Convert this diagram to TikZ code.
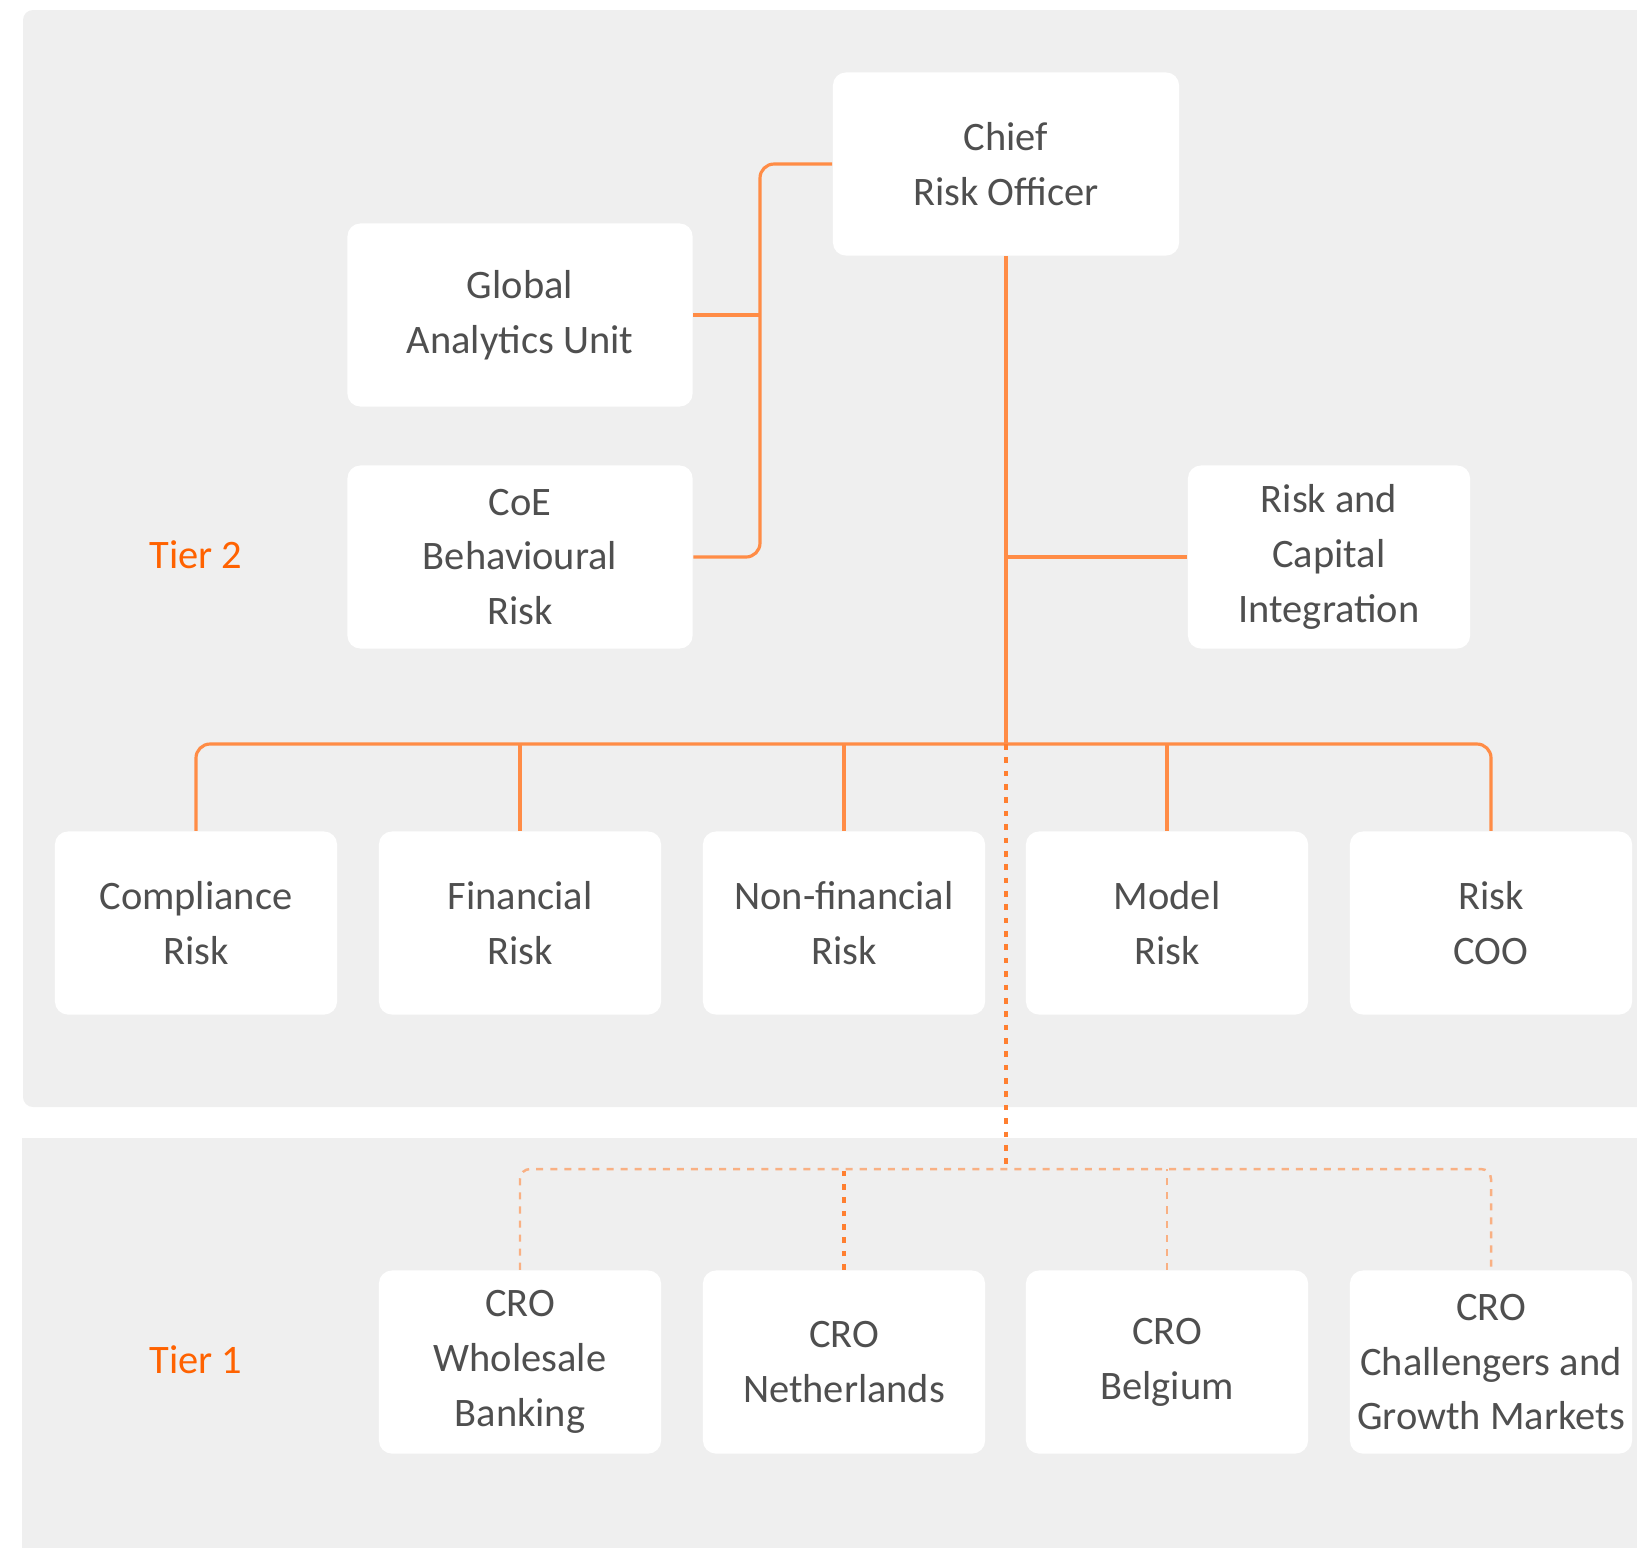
\documentclass[tikz,border=0pt]{standalone}
\usepackage{fontspec}
\setmainfont{Carlito}
\definecolor{panelgray}{HTML}{EFEFEF}
\definecolor{linkorange}{HTML}{FF8C46}
\definecolor{dotorange}{HTML}{FF7F30}
\definecolor{dashorange}{HTML}{F9B083}
\definecolor{tierorange}{HTML}{FF6200}
\definecolor{unittext}{HTML}{4F4F4F}
\begin{document}
\begin{tikzpicture}[x=0.01cm,y=-0.01cm]

    \tikzstyle{unit}=[rectangle, fill=white, rounded corners=0.13cm, minimum width=2.82cm, minimum height=1.83cm, inner sep=0pt, align=center, text=unittext, font=\fontsize{11.5}{15.6}\selectfont]
    \tikzstyle{tier}=[text=tierorange, font=\fontsize{11.5}{15.6}\selectfont]
    \tikzstyle{link}=[draw=linkorange, line width=0.9pt]
    \tikzstyle{dotlink}=[draw=dotorange, line width=0.9pt, dash pattern=on 1.6pt off 2.2pt]
    \tikzstyle{dashlink}=[draw=dashorange, line width=0.7pt, dash pattern=on 2pt off 2pt]

    \useasboundingbox (0,0) rectangle (1637,1547);
    \fill[panelgray, rounded corners=0.1cm] (23,10) rectangle (1700,1107);
    \fill[panelgray] (22,1138) rectangle (1700,1600);

    \node[unit, minimum width=3.46cm] (cro) at (1006,164) {Chief\\Risk Officer};
    \node[unit, minimum width=3.45cm] (gau) at (520,315) {Global\\Analytics Unit};
    \node[unit, minimum width=3.45cm] (coe) at (520,557) {CoE\\Behavioural\\Risk};
    \node[unit] (rci) at (1329,557) {Risk and\\Capital\\Integration};

    \node[unit] (comp)   at (196,923)  {Compliance\\Risk};
    \node[unit] (fin)    at (520,923)  {Financial\\Risk};
    \node[unit] (nonfin) at (844,923)  {Non-financial\\Risk};
    \node[unit] (model)  at (1167,923) {Model\\Risk};
    \node[unit] (coo)    at (1491,923) {Risk\\COO};

    \node[unit] (wsb) at (520,1362)  {CRO\\Wholesale\\Banking};
    \node[unit] (nl)  at (844,1362)  {CRO\\Netherlands};
    \node[unit] (be)  at (1167,1362) {CRO\\Belgium};
    \node[unit] (cgm) at (1491,1362) {CRO\\Challengers and\\Growth Markets};

    \node[tier] (tiertwo) at (196,555)  {Tier 2};
    \node[tier] (tierone) at (196,1360) {Tier 1};

    \coordinate (spine)   at (760,557);
    \coordinate (hub)     at (1006,744);
    \coordinate (tierhub) at (1006,1169);

    \draw[link, rounded corners=0.14cm] (cro.west) -| (spine) -- (coe.east);
    \draw[link] (gau.east) -- (gau.east -| spine);
    \draw[link] (cro.south) -- (hub);
    \draw[link] (rci.west) -- (rci.west -| hub);
    \draw[link, rounded corners=0.14cm] (comp.north) |- (hub) -| (coo.north);
    \foreach \n in {fin,nonfin,model}
        \draw[link] (\n.north) -- (\n.north |- hub);

    \draw[dotlink] (hub) -- (tierhub);
    \draw[dashlink, rounded corners=0.1cm] (wsb.north) |- (tierhub) -| (cgm.north);
    \draw[dotlink] (nl.north) -- (nl.north |- tierhub);
    \draw[dashlink] (be.north) -- (be.north |- tierhub);
\end{tikzpicture}
\end{document}
